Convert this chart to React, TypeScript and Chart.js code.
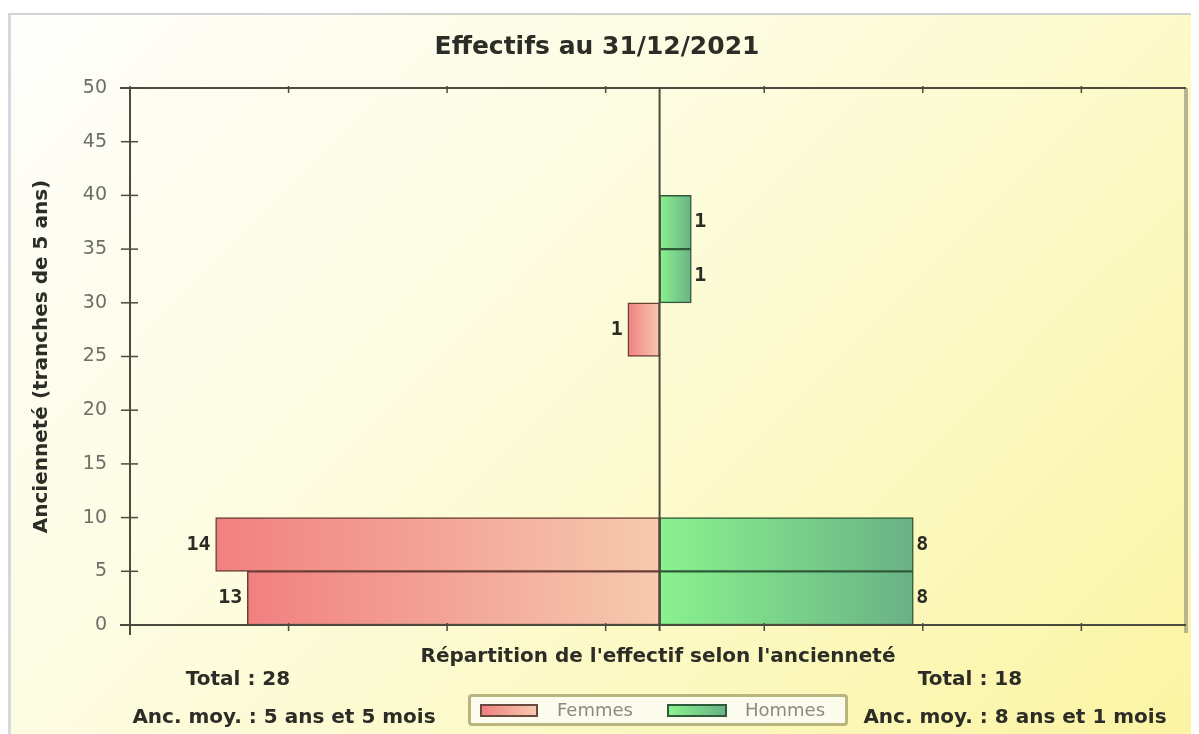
import React, { useEffect, useRef } from "react";
import { Chart, registerables } from "chart.js";

Chart.register(...registerables);

// ---- data ----
const binStarts = [0, 5, 10, 15, 20, 25, 30, 35, 40, 45];
const femmes = [13, 14, 0, 0, 0, 1, 0, 0, 0, 0];
const hommes = [8, 8, 0, 0, 0, 0, 1, 1, 0, 0];
const yTickValues = [0, 5, 10, 15, 20, 25, 30, 35, 40, 45, 50];
const xTickMarks = [-16.7, -11.7, -6.7, -1.7, 3.3, 8.3, 13.3];
const xMin = -16.7;
const xMax = 16.6;
const binWidth = 5;

const chartTitle = "Effectifs au 31/12/2021";
const xTitle = "Répartition de l'effectif selon l'ancienneté";
const yTitle = "Ancienneté (tranches de 5 ans)";
const seriesNames = ["Femmes", "Hommes"];
const statsFemmes = ["Total : 28", "Anc. moy. : 5 ans et 5 mois"];
const statsHommes = ["Total : 18", "Anc. moy. : 8 ans et 1 mois"];

const W = 1191;
const H = 721;

const FEM_A = "rgb(241,128,128)";
const FEM_B = "rgb(246,202,174)";
const HOM_A = "rgb(138,242,142)";
const HOM_B = "rgb(106,178,134)";

function pts(values: number[], sign: number) {
  return values
    .map((v, i) => ({ x: sign * v, y: binStarts[i] + binWidth / 2 }))
    .filter((p) => p.x !== 0);
}

function gradFor(c: any, fromColor: string, toColor: string, fallback: string) {
  const chart = c.chart;
  const raw = c.raw;
  const xs = chart.scales && chart.scales.x;
  if (!chart.chartArea || !raw || !xs) return fallback;
  const p0 = xs.getPixelForValue(Math.min(raw.x, 0));
  const p1 = xs.getPixelForValue(Math.max(raw.x, 0));
  if (!isFinite(p0) || !isFinite(p1) || p0 === p1) return fallback;
  const g = chart.ctx.createLinearGradient(p0, 0, p1, 0);
  g.addColorStop(0, fromColor);
  g.addColorStop(1, toColor);
  return g;
}

const framePlugin = {
  id: "frame",
  afterDatasetsDraw(chart: any) {
    const { ctx, chartArea: a, scales } = chart;
    const xs = scales.x;
    const ys = scales.y;
    const line = (x1: number, y1: number, x2: number, y2: number) => {
      ctx.beginPath();
      ctx.moveTo(x1, y1);
      ctx.lineTo(x2, y2);
      ctx.stroke();
    };
    ctx.save();
    ctx.strokeStyle = "#b8b58c";
    ctx.lineWidth = 4;
    line(a.right, a.top, a.right, a.bottom + 8);
    ctx.strokeStyle = "#4b4b3e";
    ctx.lineWidth = 2;
    line(a.left - 10, a.top, a.right, a.top);
    line(a.left - 10, a.bottom, a.right, a.bottom);
    line(a.left, a.top, a.left, a.bottom + 10);
    const cx = xs.getPixelForValue(0);
    line(cx, a.top, cx, a.bottom + 6);
    ctx.lineWidth = 1.5;
    yTickValues.forEach((v) => {
      const py = ys.getPixelForValue(v);
      line(a.left - 9, py, a.left + 8, py);
    });
    xTickMarks.forEach((v) => {
      const px = xs.getPixelForValue(v);
      line(px, a.bottom - 2, px, a.bottom + 6);
      line(px, a.top - 2, px, a.top + 5);
    });
    ctx.restore();
  },
};

const labelPlugin = {
  id: "barLabels",
  afterDatasetsDraw(chart: any) {
    const ctx = chart.ctx;
    ctx.save();
    ctx.font = 'bold 20px "DejaVu Sans Mono"';
    ctx.fillStyle = "#2b2b26";
    ctx.textBaseline = "middle";
    chart.data.datasets.forEach((ds: any, di: number) => {
      const meta = chart.getDatasetMeta(di);
      meta.data.forEach((el: any, i: number) => {
        const raw = ds.data[i];
        const v = Math.abs(raw.x);
        if (!v) return;
        if (raw.x < 0) {
          ctx.textAlign = "right";
          ctx.fillText(String(v), el.x - 5, el.y);
        } else {
          ctx.textAlign = "left";
          ctx.fillText(String(v), el.x + 3, el.y);
        }
      });
    });
    ctx.restore();
  },
};

function PyramidChart() {
  const ref = useRef<HTMLCanvasElement | null>(null);
  useEffect(() => {
    if (!ref.current) return;
    Chart.defaults.font.family = '"DejaVu Sans"';
    const chart = new Chart(ref.current, {
      type: "bar",
      data: {
        datasets: [
          {
            label: seriesNames[0],
            data: pts(femmes, -1),
            grouped: false,
            barPercentage: 1,
            categoryPercentage: 1,
            borderWidth: 1.5,
            borderSkipped: false,
            borderColor: "#6a4034",
            backgroundColor: (c: any) => gradFor(c, FEM_A, FEM_B, FEM_A),
          } as any,
          {
            label: seriesNames[1],
            data: pts(hommes, 1),
            grouped: false,
            barPercentage: 1,
            categoryPercentage: 1,
            borderWidth: 1.5,
            borderSkipped: false,
            borderColor: "#2f5a38",
            backgroundColor: (c: any) => gradFor(c, HOM_A, HOM_B, HOM_A),
          } as any,
        ],
      },
      options: {
        indexAxis: "y",
        animation: false,
        responsive: false,
        events: [],
        layout: { padding: { left: 0, right: 13, top: 0, bottom: 0 } },
        plugins: {
          legend: { display: false },
          tooltip: { enabled: false },
          title: {
            display: true,
            text: chartTitle,
            color: "#2d2d28",
            font: { size: 25, weight: "bold", family: '"DejaVu Sans"' },
            padding: { top: 19, bottom: 26 },
          },
        },
        scales: {
          x: {
            type: "linear",
            min: xMin,
            max: xMax,
            offset: false,
            grid: { display: false, drawTicks: false, tickLength: 0 },
            border: { display: false },
            ticks: { display: false },
            title: {
              display: true,
              text: xTitle,
              color: "#2d2d28",
              font: { size: 20, weight: "bold", family: '"DejaVu Sans"' },
              padding: { top: 0, bottom: 65 },
            },
            afterFit: (s: any) => {
              s.height = 109;
            },
          },
          y: {
            type: "linear",
            min: 0,
            max: 50,
            offset: false,
            grid: { display: false, drawTicks: false, tickLength: 0, offset: false },
            border: { display: false },
            ticks: {
              stepSize: 5,
              color: "#6e6e68",
              padding: 23,
              font: { size: 19, family: '"DejaVu Sans"' },
            },
            title: {
              display: true,
              text: yTitle,
              color: "#2d2d28",
              font: { size: 20, weight: "bold", family: '"DejaVu Sans"' },
              padding: { top: 22, bottom: 0 },
            },
            afterFit: (s: any) => {
              s.width = 122;
            },
          },
        },
      } as any,
      plugins: [framePlugin, labelPlugin],
    });
    return () => chart.destroy();
  }, []);
  return (
    <canvas
      ref={ref}
      width={W}
      height={H}
      style={{ position: "absolute", left: 0, top: 0, width: W, height: H }}
    />
  );
}

const statStyle: React.CSSProperties = {
  position: "absolute",
  width: 400,
  textAlign: "center",
  font: 'bold 20px "DejaVu Sans"',
  lineHeight: "24px",
  color: "#2d2d28",
  whiteSpace: "nowrap",
};

export default function App() {
  return (
    <div
      style={{
        position: "relative",
        width: W,
        height: H,
        marginTop: 5,
        boxSizing: "border-box",
        borderTop: "2px solid #d2d2d2",
        borderLeft: "3px solid #d6d8e0",
        background:
          "linear-gradient(135deg, #fefefc 0%, #fdfce0 40%, #fcf8bc 75%, #fbf4a2 100%)",
        overflow: "hidden",
      }}
    >
      <div style={{ position: "absolute", left: -3, top: -2, width: W, height: H }}>
        <PyramidChart />
        <div style={{ ...statStyle, left: 238 - 8 - 200, top: 678 - 13 - 12 }}>{statsFemmes[0]}</div>
        <div style={{ ...statStyle, left: 284 - 8 - 200, top: 716 - 13 - 12 }}>{statsFemmes[1]}</div>
        <div style={{ ...statStyle, left: 970 - 8 - 200, top: 678 - 13 - 12 }}>{statsHommes[0]}</div>
        <div style={{ ...statStyle, left: 1015 - 8 - 200, top: 716 - 13 - 12 }}>{statsHommes[1]}</div>
        <div
          style={{
            position: "absolute",
            left: 468 - 8,
            top: 694 - 13,
            width: 380,
            height: 32,
            boxSizing: "border-box",
            border: "3px solid #bab57e",
            borderRadius: 4,
            background: "#fbfbee",
          }}
        >
          <div
            style={{
              position: "absolute",
              left: 480 - 471,
              top: 7,
              width: 58,
              height: 13,
              boxSizing: "border-box",
              border: "2px solid #6a4a3e",
              background: `linear-gradient(90deg, ${FEM_A}, ${FEM_B})`,
            }}
          />
          <div
            style={{
              position: "absolute",
              left: 557 - 471,
              top: 2,
              font: '18px "DejaVu Sans"',
              lineHeight: "22px",
              color: "#8a8a80",
            }}
          >
            {seriesNames[0]}
          </div>
          <div
            style={{
              position: "absolute",
              left: 667 - 471,
              top: 7,
              width: 60,
              height: 13,
              boxSizing: "border-box",
              border: "2px solid #2f5a38",
              background: `linear-gradient(90deg, ${HOM_A}, ${HOM_B})`,
            }}
          />
          <div
            style={{
              position: "absolute",
              left: 745 - 471,
              top: 2,
              font: '18px "DejaVu Sans"',
              lineHeight: "22px",
              color: "#8a8a80",
            }}
          >
            {seriesNames[1]}
          </div>
        </div>
      </div>
    </div>
  );
}
